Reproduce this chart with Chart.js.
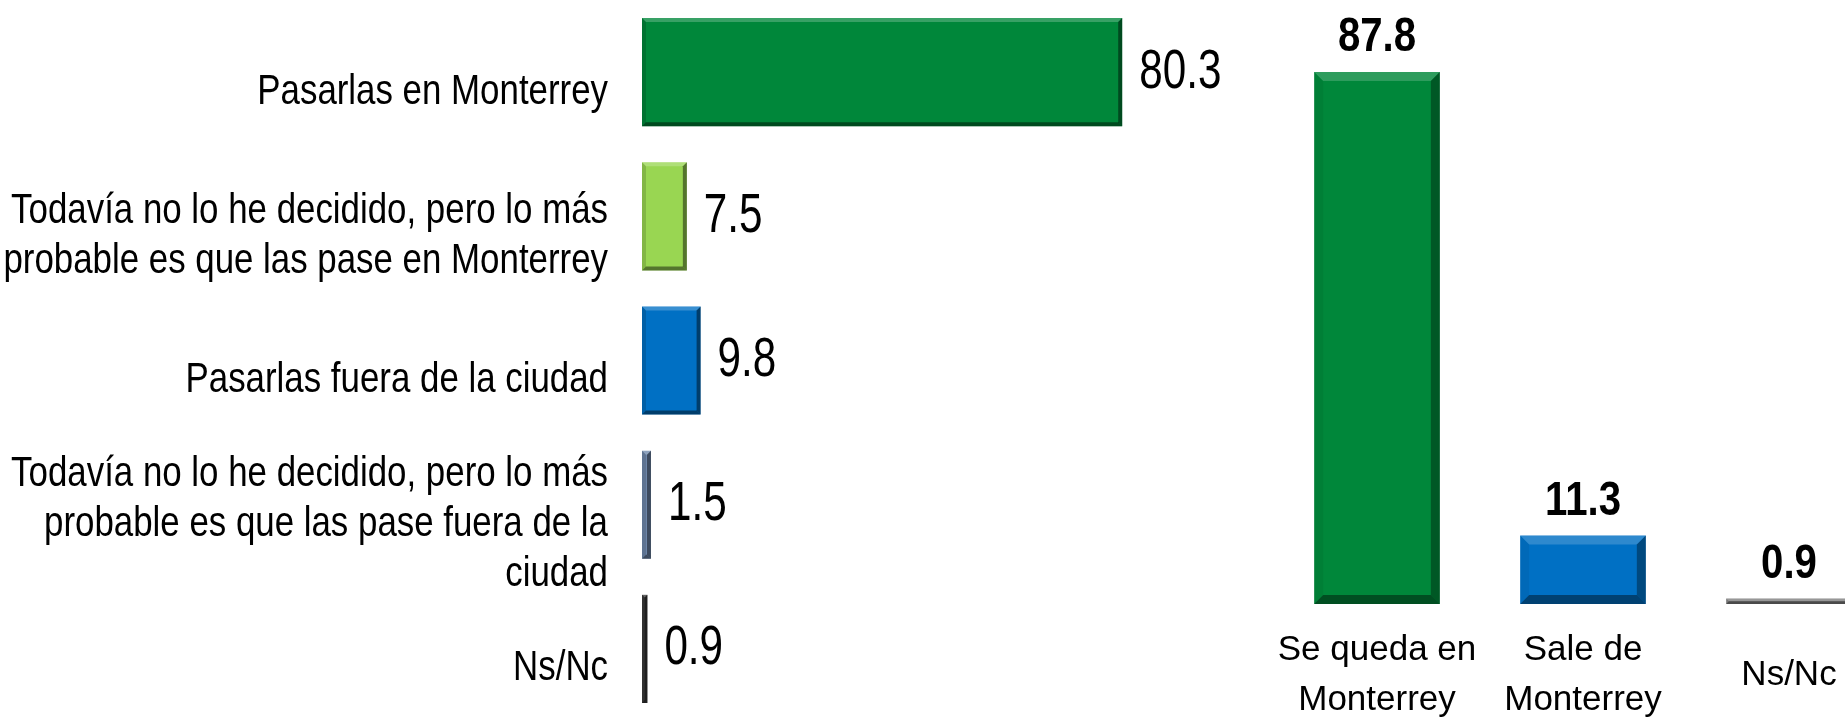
<!DOCTYPE html>
<html>
<head>
<meta charset="utf-8">
<script src="https://cdn.jsdelivr.net/npm/chart.js@4/dist/chart.umd.min.js"></script>
<style>
  html, body { margin: 0; padding: 0; background: #ffffff; overflow: hidden; width: 1845px; height: 721px; }
  #left { position: absolute; left: 0; top: 0; }
  #right { position: absolute; left: 1274px; top: 0; }
</style>
</head>
<body>
<canvas id="left" width="1240" height="721"></canvas>
<canvas id="right" width="618" height="721"></canvas>
<script>
// ---- data ----
const leftCategories = [
  "Pasarlas en Monterrey",
  ["Todavía no lo he decidido, pero lo más", "probable es que las pase en Monterrey"],
  "Pasarlas fuera de la ciudad",
  ["Todavía no lo he decidido, pero lo más", "probable es que las pase fuera de la", "ciudad"],
  "Ns/Nc"
];
const leftValues = [80.3, 7.5, 9.8, 1.5, 0.9];
const leftColors = ["#00873A", "#99D652", "#0070C4", "#6F88AB", "#3A3A3A"];

const rightCategories = [["Se queda en", "Monterrey"], ["Sale de", "Monterrey"], "Ns/Nc"];
const rightValues = [87.8, 11.3, 0.9];
const rightColors = ["#00873A", "#0070C4", "#808080"];

const SANS = "'Liberation Sans', Arial, sans-serif";
const LABEL_SQUEEZE = 0.83; // Arial Narrow-like proportions

// Category scale whose tick labels are drawn horizontally condensed (narrow type face look)
class NarrowCategoryScale extends Chart.CategoryScale {
  _computeLabelArea() { return undefined; }
  drawLabels(chartArea) {
    const ctx = this.ctx;
    const anchor = this.right - (this.options.ticks.padding || 0);
    ctx.save();
    ctx.translate(anchor, 0);
    ctx.scale(LABEL_SQUEEZE, 1);
    ctx.translate(-anchor, 0);
    super.drawLabels(chartArea);
    ctx.restore();
  }
}
NarrowCategoryScale.id = 'narrowCategory';
NarrowCategoryScale.defaults = Chart.CategoryScale.defaults;
Chart.register(NarrowCategoryScale);

function poly(ctx, pts, color) {
  ctx.beginPath();
  ctx.moveTo(pts[0][0], pts[0][1]);
  for (let i = 1; i < pts.length; i++) ctx.lineTo(pts[i][0], pts[i][1]);
  ctx.closePath();
  ctx.fillStyle = color;
  ctx.fill();
}

const bevelPlugin = {
  id: 'bevel',
  afterDatasetsDraw(chart, args, opts) {
    const ctx = chart.ctx;
    ctx.save();
    chart.getDatasetMeta(0).data.forEach(el => {
      const p = el.getProps(['x', 'y', 'base', 'width', 'height', 'horizontal'], true);
      let l, r, t, b;
      if (p.horizontal) {
        l = Math.min(p.base, p.x); r = Math.max(p.base, p.x);
        t = p.y - p.height / 2; b = p.y + p.height / 2;
      } else {
        l = p.x - p.width / 2; r = p.x + p.width / 2;
        t = Math.min(p.y, p.base); b = Math.max(p.y, p.base);
      }
      const s = Math.min(opts.size, (r - l) / 2, (b - t) / 2);
      poly(ctx, [[l, t], [r, t], [r - s, t + s], [l + s, t + s]], opts.top);
      poly(ctx, [[l, t], [l + s, t + s], [l + s, b - s], [l, b]], opts.left);
      poly(ctx, [[r, t], [r, b], [r - s, b - s], [r - s, t + s]], opts.right);
      poly(ctx, [[l, b], [r, b], [r - s, b - s], [l + s, b - s]], opts.bottom);
    });
    ctx.restore();
  }
};

const valueLabelPlugin = {
  id: 'valueLabels',
  afterDatasetsDraw(chart, args, opts) {
    const ctx = chart.ctx;
    const data = chart.data.datasets[0].data;
    ctx.save();
    ctx.fillStyle = opts.color;
    ctx.font = opts.font;
    chart.getDatasetMeta(0).data.forEach((el, i) => {
      const txt = Number(data[i]).toFixed(1);
      ctx.save();
      if (opts.horizontal) {
        ctx.textAlign = 'left';
        ctx.textBaseline = 'middle';
        ctx.translate(el.x + opts.gap, el.y);
      } else {
        ctx.textAlign = 'center';
        ctx.textBaseline = 'alphabetic';
        ctx.translate(el.x, el.y - opts.gap);
      }
      ctx.scale(opts.scaleX, 1);
      ctx.fillText(txt, 0, 0);
      ctx.restore();
    });
    ctx.restore();
  }
};

new Chart(document.getElementById('left'), {
  type: 'bar',
  data: {
    labels: leftCategories,
    datasets: [{
      data: leftValues,
      backgroundColor: leftColors,
      borderWidth: 0,
      categoryPercentage: 1.0,
      barPercentage: 0.75
    }]
  },
  plugins: [bevelPlugin, valueLabelPlugin],
  options: {
    indexAxis: 'y',
    responsive: false,
    animation: false,
    devicePixelRatio: 1,
    layout: { padding: 0 },
    plugins: {
      legend: { display: false },
      tooltip: { enabled: false },
      bevel: { size: 4, top: 'rgba(255,255,255,0.22)', left: 'rgba(0,0,0,0.15)', right: 'rgba(0,0,0,0.45)', bottom: 'rgba(0,0,0,0.45)' },
      valueLabels: { horizontal: true, gap: 17, scaleX: 0.754, color: '#000000', font: "56px " + SANS }
    },
    scales: {
      x: { display: false, min: 0, max: 100 },
      y: {
        type: 'narrowCategory',
        grid: { display: false, drawTicks: false, tickLength: 0 },
        border: { display: false },
        afterFit(scale) {
          scale.width = 642;
          scale.paddingTop = 0;
          scale.paddingBottom = 0;
        },
        ticks: {
          autoSkip: false,
          padding: 34,
          labelOffset: 20,
          color: '#000000',
          font: { family: SANS, size: 42, lineHeight: 1.19 }
        }
      }
    }
  }
});

new Chart(document.getElementById('right'), {
  type: 'bar',
  data: {
    labels: rightCategories,
    datasets: [{
      data: rightValues,
      backgroundColor: rightColors,
      borderWidth: 0,
      categoryPercentage: 1.0,
      barPercentage: 0.61
    }]
  },
  plugins: [bevelPlugin, valueLabelPlugin],
  options: {
    responsive: false,
    animation: false,
    devicePixelRatio: 1,
    layout: { padding: { top: 4, left: 0, right: 0, bottom: 0 } },
    plugins: {
      legend: { display: false },
      tooltip: { enabled: false },
      bevel: { size: 9, top: 'rgba(255,255,255,0.18)', left: 'rgba(0,0,0,0.06)', right: 'rgba(0,0,0,0.35)', bottom: 'rgba(0,0,0,0.42)' },
      valueLabels: { horizontal: false, gap: 21, scaleX: 0.82, color: '#000000', font: "bold 49px " + SANS }
    },
    scales: {
      y: { display: false, min: 0, max: 99 },
      x: {
        grid: { display: false, drawTicks: false, tickLength: 0 },
        border: { display: false },
        afterFit(scale) {
          scale.height = 117;
          scale.paddingLeft = 0;
          scale.paddingRight = 0;
        },
        ticks: {
          autoSkip: false,
          maxRotation: 0,
          minRotation: 0,
          padding: 46,
          crossAlign: 'center',
          color: '#000000',
          font: { family: SANS, size: 35, lineHeight: 1.43 }
        }
      }
    }
  }
});
</script>
</body>
</html>
